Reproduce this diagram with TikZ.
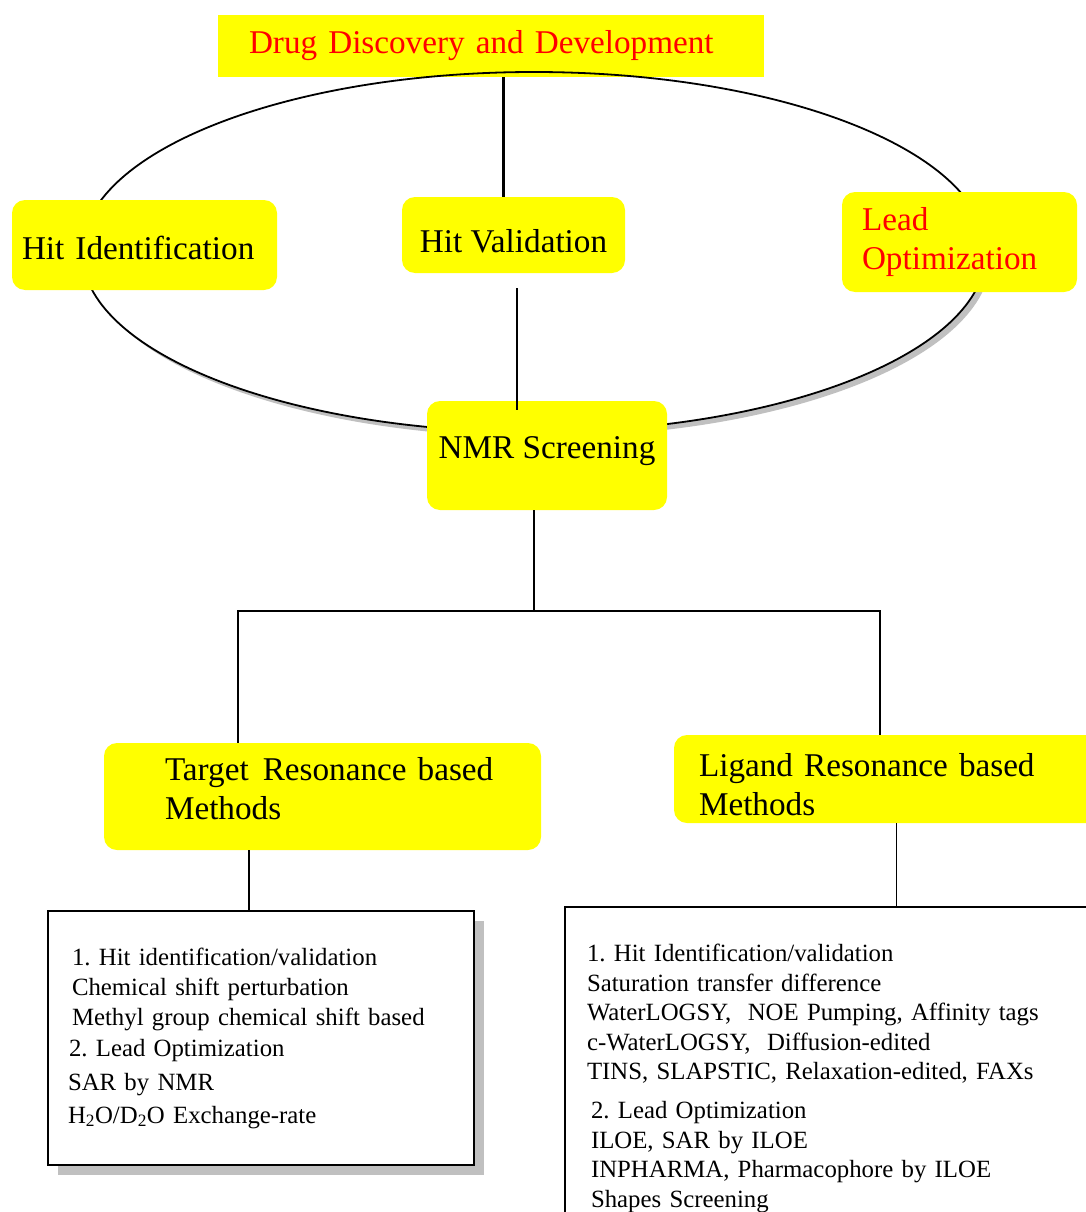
\documentclass[tikz,border=0pt]{standalone}
\usepackage{fontspec}
\setmainfont{Liberation Serif}
\usetikzlibrary{shadows}

\definecolor{boxyellow}{RGB}{255,255,0}
\definecolor{labelred}{RGB}{255,0,0}
\definecolor{shadowgray}{RGB}{192,192,192}

\begin{document}
\frenchspacing
\begin{tikzpicture}[x=1pt, y=-1pt,
    ybox/.style={fill=boxyellow, rounded corners=13pt, inner ysep=0pt, align=left},
    bigtext/.style={font=\fontsize{33.2}{39}\selectfont},
    listtext/.style={font=\fontsize{24.8}{30}\selectfont},
    listbox/.style={draw, line width=1.8pt, fill=white, inner ysep=0pt, align=left},
    link/.style={line width=1.8pt}]
  \useasboundingbox (0,0) rectangle (1086,1212);
  \clip (0,0) rectangle (1086,1212);

  % Top: the discovery cycle
  \fill[shadowgray] (539,257) ellipse [x radius=452, y radius=180];
  \fill[white] (534,252) ellipse [x radius=452, y radius=180];
  \node[fill=boxyellow, bigtext, text=labelred, minimum width=546, minimum height=62, inner xsep=31pt, text width=484pt, align=left] (title) at (491,46) {Drug Discovery and Development};
  \draw[line width=1.8pt] (534,252) ellipse [x radius=452, y radius=180];

  \node[ybox, bigtext, minimum width=265, minimum height=90, inner xsep=10pt, text width=245pt, text height=30pt] (hitid) at (144.5,245) {Hit Identification};
  \node[ybox, bigtext, minimum width=223, minimum height=76, text height=36pt] (hitval) at (513.5,235) {Hit Validation};
  \node[ybox, bigtext, text=labelred, minimum width=235, minimum height=100, inner xsep=20pt, text width=195pt] (leadopt) at (959.5,242) {Lead\\Optimization};
  \node[ybox, bigtext, minimum width=240, minimum height=109, text depth=15pt] (nmr) at (547,455.5) {NMR Screening};

  \draw[line width=3pt] ([xshift=12pt]title.south) -- ([xshift=-10.5pt]hitval.north);
  \draw[link] ([shift={(3.5pt,-15pt)}]hitval.south) -- ([shift={(-30pt,-9pt)}]nmr.north);

  % Middle: the two method families
  \node[ybox, bigtext, minimum width=437, minimum height=107, text width=315pt, text depth=55.7pt] (target) at (322.5,796.5) {\mbox{Target\hspace{3pt} Resonance based}\\Methods};
  \node[ybox, bigtext, minimum width=436, minimum height=88, inner xsep=25pt, text width=386pt, text height=35pt] (ligand) at (892,779) {Ligand Resonance based\\Methods};

  \coordinate (split) at (534,611);
  \draw[link] ([xshift=-13pt]nmr.south) -- (split);
  \draw[link] ([xshift=-84.5pt]target.north) |- (split) -| ([xshift=-12pt]ligand.north);

  % Bottom: method lists
  \node[listbox, listtext, drop shadow={shadow xshift=10pt, shadow yshift=-10pt, fill=shadowgray, opacity=1}, minimum width=426, minimum height=254, inner xsep=20pt, text width=386pt] (leftlist) at (261,1038) {\hspace*{4pt}1. Hit identification/validation\\
    \hspace*{4pt}Chemical shift perturbation\\
    \hspace*{4pt}Methyl group chemical shift based\\[1pt]
    \hspace*{1pt}2. Lead Optimization\\[4pt]
    SAR by NMR\\[3pt]
    H\textsubscript{2}O/D\textsubscript{2}O Exchange-rate};
  \node[listbox, font=\fontsize{24.8}{29.5}\selectfont, minimum width=565, minimum height=325, inner xsep=22pt, text width=521pt, text height=35pt] (rightlist) at (847.5,1069.5) {1. Hit Identification/validation\\
    Saturation transfer difference\\
    WaterLOGSY,~ NOE Pumping, Affinity tags\\
    c-WaterLOGSY,~ Diffusion-edited\\
    TINS, SLAPSTIC, Relaxation-edited, FAXs\\[9.5pt]
    \hspace*{4pt}2. Lead Optimization\\
    \hspace*{4pt}ILOE, SAR by ILOE\\
    \hspace*{4pt}INPHARMA, Pharmacophore by ILOE\\
    \hspace*{4pt}Shapes Screening};

  \draw[link] ([xshift=-73.5pt]target.south) -- ([xshift=-73.5pt]target.south |- leftlist.north);
  \draw[link] ([xshift=4.5pt]ligand.south) -- ([xshift=4.5pt]ligand.south |- rightlist.north);
\end{tikzpicture}
\end{document}
